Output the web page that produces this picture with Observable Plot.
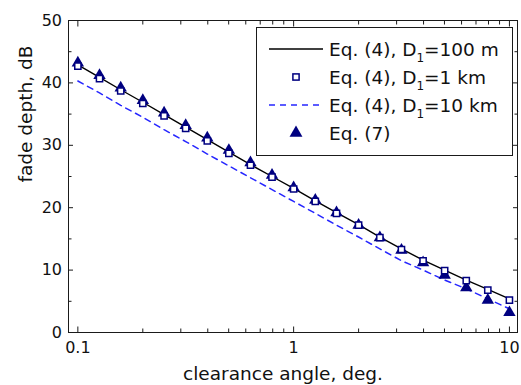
<!DOCTYPE html>
<html>
<head>
<meta charset="utf-8">
<script src="https://cdn.jsdelivr.net/npm/d3@7"></script>
<script src="https://cdn.jsdelivr.net/npm/@observablehq/plot@0.6"></script>
<style>
  html, body { margin: 0; padding: 0; background: #fff; }
  #wrap { position: relative; width: 521px; height: 385px; font-family: "DejaVu Sans", sans-serif; }
  #wrap > svg.plot { position: absolute; left: 0; top: 0; }
  #legend { position: absolute; left: 256px; top: 27px; }
</style>
</head>
<body>
<div id="wrap"></div>
<script>
// clearance angle, deg.
const angles = [0.1, 0.126, 0.158, 0.2, 0.251, 0.316, 0.398, 0.501, 0.631, 0.794, 1, 1.26, 1.58, 2, 2.51, 3.16, 3.98, 5.01, 6.31, 7.94, 10];
// fade depth, dB
const eq4_100m = [42.9, 40.9, 38.9, 36.9, 34.9, 32.9, 30.9, 28.9, 26.9, 25.0, 23.1, 21.1, 19.2, 17.3, 15.3, 13.4, 11.6, 10.0, 8.4, 6.9, 5.4];
const eq4_1km  = [42.7, 40.7, 38.7, 36.7, 34.7, 32.7, 30.7, 28.7, 26.8, 24.9, 23.0, 21.0, 19.1, 17.2, 15.2, 13.3, 11.5, 9.9, 8.3, 6.8, 5.2];
const eq4_10km = [40.3, 38.4, 36.4, 34.5, 32.5, 30.6, 28.6, 26.7, 24.8, 22.9, 21.0, 19.1, 17.2, 15.3, 13.4, 11.5, 10.0, 8.4, 7.0, 5.4, 3.8];
const eq7      = [43.2, 41.2, 39.2, 37.2, 35.2, 33.2, 31.2, 29.2, 27.2, 25.2, 23.2, 21.2, 19.2, 17.2, 15.2, 13.2, 11.2, 9.2, 7.2, 5.2, 3.2];

const xMajor = [0.1, 1, 10];
const xMinor = [0.2, 0.3, 0.4, 0.5, 0.6, 0.7, 0.8, 0.9, 2, 3, 4, 5, 6, 7, 8, 9];
const yMajor = [0, 10, 20, 30, 40, 50];
const yMinor = [5, 15, 25, 35, 45];
const xTickLabels = ["0.1", "1", "10"];
const yTickLabels = ["0", "10", "20", "30", "40", "50"];

const xTitle = "clearance angle, deg.";
const yTitle = "fade depth, dB";

const table = angles.map((a, i) => ({a, l100: eq4_100m[i], s1k: eq4_1km[i], l10k: eq4_10km[i], t7: eq7[i]}));

const navy = "#000080";
const blue = "#2626ff";
const ink = "#1a1a1a";

const tickAxes = [];
for (const anchor of ["bottom", "top"]) {
  tickAxes.push(Plot.axisX({anchor, ticks: xMajor, tickSize: -5.5, tickFormat: () => "", label: null, stroke: ink}));
  tickAxes.push(Plot.axisX({anchor, ticks: xMinor, tickSize: -3.5, tickFormat: () => "", label: null, stroke: ink}));
}
for (const anchor of ["left", "right"]) {
  tickAxes.push(Plot.axisY({anchor, ticks: yMajor, tickSize: -5, tickFormat: () => "", label: null, stroke: ink}));
  tickAxes.push(Plot.axisY({anchor, ticks: yMinor, tickSize: -3.5, tickFormat: () => "", label: null, stroke: ink}));
}

const plot = Plot.plot({
  width: 521,
  height: 385,
  marginLeft: 68,
  marginRight: 4,
  marginTop: 20,
  marginBottom: 53,
  style: {fontFamily: "'DejaVu Sans', sans-serif", fontSize: "16px", color: "#111", background: "white", overflow: "visible"},
  x: {type: "log", domain: [0.0905, 10.9], label: null},
  y: {domain: [0, 50], label: null},
  marks: [
    Plot.line(table, {x: "a", y: "l10k", stroke: blue, strokeWidth: 1.5, strokeDasharray: "6,5"}),
    Plot.line(table, {x: "a", y: "l100", stroke: "#000", strokeWidth: 1.4}),
    Plot.dot(table, {x: "a", y: "t7", symbol: "triangle", r: 4.6, fill: navy, stroke: "none"}),
    Plot.dot(table, {x: "a", y: "s1k", symbol: "square", r: 3.5, fill: "white", stroke: navy, strokeWidth: 1.5}),
    ...tickAxes,
    Plot.axisX({anchor: "bottom", ticks: xMajor, tickSize: 0, tickPadding: 9.5, tickFormat: (d) => xTickLabels[xMajor.indexOf(d)], label: null, fontSize: 16}),
    Plot.axisY({anchor: "left", ticks: yMajor, tickSize: 0, tickPadding: 6.5, tickFormat: (d) => yTickLabels[yMajor.indexOf(d)], label: null, fontSize: 16}),
    Plot.text([xTitle], {text: d => d, frameAnchor: "bottom", dx: -10, dy: 47, lineAnchor: "bottom", fontSize: 18.5, fill: "#111"}),
    Plot.text([yTitle], {text: d => d, frameAnchor: "left", rotate: -90, dx: -37, dy: 6, lineAnchor: "bottom", fontSize: 18.5, fill: "#111"}),
    Plot.frame({stroke: ink, strokeWidth: 1})
  ]
});
document.getElementById("wrap").appendChild(plot);

// legend
const legendItems = [
  {main: "Eq. (4), D", sub: "1", rest: "=100 m", kind: "line"},
  {main: "Eq. (4), D", sub: "1", rest: "=1 km", kind: "square"},
  {main: "Eq. (4), D", sub: "1", rest: "=10 km", kind: "dash"},
  {main: "Eq. (7)", sub: "", rest: "", kind: "triangle"}
];
const NS = "http://www.w3.org/2000/svg";
const lg = document.createElementNS(NS, "svg");
lg.setAttribute("id", "legend");
lg.setAttribute("width", 258);
lg.setAttribute("height", 130);
lg.style.fontFamily = "'DejaVu Sans', sans-serif";
const box = document.createElementNS(NS, "rect");
box.setAttribute("x", 0.5); box.setAttribute("y", 0.5);
box.setAttribute("width", 256); box.setAttribute("height", 128);
box.setAttribute("fill", "white"); box.setAttribute("stroke", ink); box.setAttribute("stroke-width", 1);
lg.appendChild(box);
legendItems.forEach((it, i) => {
  const cy = 22 + i * 28;
  if (it.kind === "line" || it.kind === "dash") {
    const ln = document.createElementNS(NS, "line");
    ln.setAttribute("x1", 13); ln.setAttribute("x2", 67);
    ln.setAttribute("y1", cy); ln.setAttribute("y2", cy);
    ln.setAttribute("stroke", it.kind === "line" ? "#000" : blue);
    ln.setAttribute("stroke-width", it.kind === "line" ? 1.4 : 1.5);
    if (it.kind === "dash") ln.setAttribute("stroke-dasharray", "6,5");
    lg.appendChild(ln);
  } else if (it.kind === "square") {
    const r = document.createElementNS(NS, "rect");
    r.setAttribute("x", 40 - 3.1); r.setAttribute("y", cy - 3.1);
    r.setAttribute("width", 6.2); r.setAttribute("height", 6.2);
    r.setAttribute("fill", "white"); r.setAttribute("stroke", navy); r.setAttribute("stroke-width", 1.5);
    lg.appendChild(r);
  } else {
    const p = document.createElementNS(NS, "path");
    p.setAttribute("d", d3.symbol(d3.symbolTriangle, Math.PI * 4.8 * 4.8)());
    p.setAttribute("transform", `translate(40,${cy})`);
    p.setAttribute("fill", navy);
    lg.appendChild(p);
  }
  const t = document.createElementNS(NS, "text");
  t.setAttribute("x", 73); t.setAttribute("y", cy + 7);
  t.setAttribute("font-size", 18.5); t.setAttribute("fill", "#111");
  const s1 = document.createElementNS(NS, "tspan"); s1.textContent = it.main; t.appendChild(s1);
  if (it.sub) {
    const s2 = document.createElementNS(NS, "tspan");
    s2.setAttribute("dy", 6); s2.setAttribute("font-size", 12); s2.textContent = it.sub; t.appendChild(s2);
    const s3 = document.createElementNS(NS, "tspan");
    s3.setAttribute("dy", -6); s3.textContent = it.rest; t.appendChild(s3);
  }
  lg.appendChild(t);
});
document.getElementById("wrap").appendChild(lg);
</script>
</body>
</html>
